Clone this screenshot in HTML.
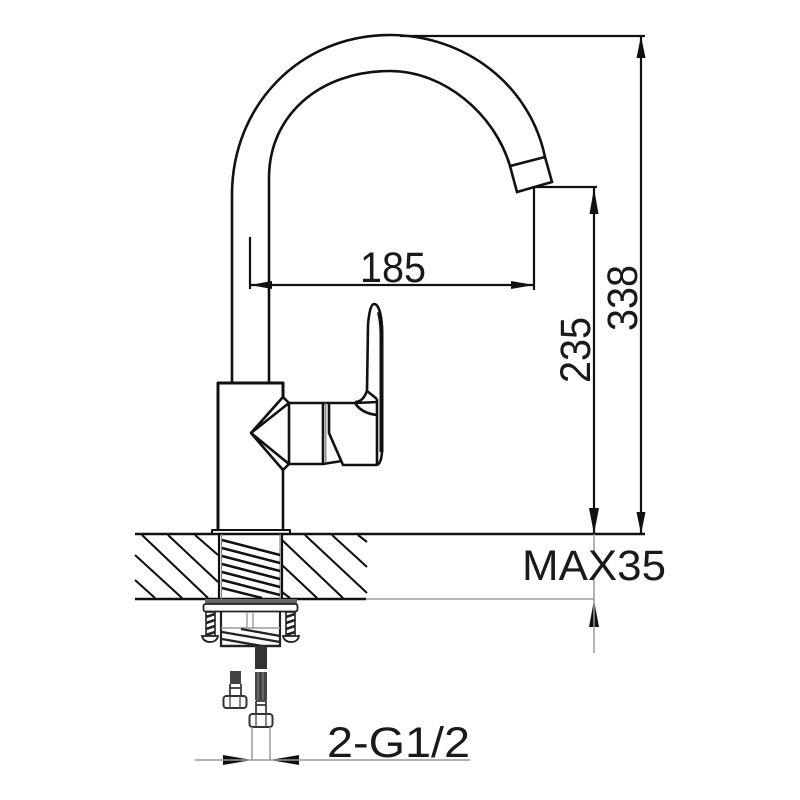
<!DOCTYPE html>
<html><head><meta charset="utf-8"><style>
html,body{margin:0;padding:0;background:#fff}
svg{display:block}
text{font-family:"Liberation Sans",sans-serif;fill:#1a1a1a;font-size:43px}
</style></head><body>
<svg width="800" height="800" viewBox="0 0 800 800" xmlns="http://www.w3.org/2000/svg">
<rect width="800" height="800" fill="#fff"/>
<!-- spout -->
<g fill="none" stroke="#111" stroke-width="2.6">
<path d="M232 383V195C232 105 300 35 390 35C465 35 530 85 545 157L552 182L517 192L510 166"/>
<path d="M269 383V178C269 115 320 71 390 71C445 71 495 115 510 166L545 157"/>
</g>
<!-- body -->
<g fill="none" stroke="#111" stroke-width="2.6" stroke-linejoin="round">
<path d="M218 530V383H283V397" stroke-width="3"/>
<path d="M283 470V530"/>
<path d="M283 397L251 433L283 470L289 464V403L283 397"/>
<path d="M251 433L289 403H323V464H289L251 433"/>
<path d="M323 403H329M323 464L329 463L342 461"/>
<path d="M325.800 403V462" stroke="#777" stroke-width="1.200"/>
<path d="M329 403H355L378 402M329 403V433L343 465H377"/>
<path d="M355 402C362 402 365 396 367 391L377 399M355 403C360 411 368 414 377 415"/>
<path d="M367 391L368 325C369 312 371 304 374 304C379 304 382 316 382 332V450C382 458 380 464 377 465"/>
<path d="M379 312C381.500 322 381.500 330 381.500 340V452" stroke-width="4"/>
<path d="M377 399V465"/>
<rect x="212" y="530" width="78" height="4" fill="#fff" stroke-width="2"/>
</g>
<!-- countertop -->
<g stroke="#111" fill="none">
<path d="M135 534H645" stroke-width="2.600"/>
<path d="M135 599H366" stroke-width="2.600"/>
<path d="M366 599H594" stroke="#aaa" stroke-width="1.800"/>
<path stroke-width="2.100" d="M142 535L208 598M168 535L218 582M195 535L218 555M135 555L182 598M135 580L155 598M282 565L317 598M282 540L343 598M305 535L367 593M332 535L367 567M358 535L367 542M282 592L290 598"/>
</g>
<!-- threaded stem -->
<g fill="none" stroke="#111">
<path d="M219 534V599M282 534V599" stroke-width="2.200"/>
<path d="M221.500 534V599" stroke="#888" stroke-width="1.200"/>
<path d="M280 534V599" stroke="#888" stroke-width="1.200"/>
<path stroke-width="2.500" d="M222 540L280 555M222 548L280 563M222 556L280 571M222 564L280 579M222 572L280 587M222 580L280 595M222 588L262 598"/>
</g>
<!-- nut assembly -->
<g fill="none" stroke="#222">
<rect x="205" y="599" width="92" height="5" fill="#666" stroke="none"/>
<rect x="203.500" y="604" width="94" height="7.500" rx="2" stroke-width="1.800"/>
<path d="M221 612V646H280V612" stroke-width="2.200"/>
<path d="M247 612V628M253 612V628M221 628H280" stroke="#999" stroke-width="1.400"/>
<path stroke-width="2.300" d="M222 632L280 642M241 629L280 636M222 639L262 646M221 646H280"/>
<rect x="206" y="612" width="9" height="24" stroke-width="1.600" fill="#fff"/>
<rect x="286" y="612" width="9" height="24" stroke-width="1.600" fill="#fff"/>
<path stroke-width="2.600" d="M206 617L215 614M206 623L215 620M206 629L215 626M206 635L215 632M286 617L295 614M286 623L295 620M286 629L295 626M286 635L295 632"/>
<path d="M202 636H218C217 641 213 642 210 642C206 642 203 640 202 636Z" stroke-width="1.800" fill="#fff"/>
<path d="M283 636H299C298 641 294 642 291 642C287 642 284 640 283 636Z" stroke-width="1.800" fill="#fff"/>
</g>
<!-- hoses -->
<rect x="255" y="646" width="12" height="23" fill="#333"/>
<rect x="255" y="672" width="12" height="28" fill="#444"/>
<path d="M258 672V700M263 672V700" stroke="#888" stroke-width="1"/>
<path d="M256 701H266V714M256 701V714M256 705H266" fill="none" stroke="#333" stroke-width="1.700"/>
<rect x="249.500" y="714" width="23" height="13" rx="3" fill="#fff" stroke="#333" stroke-width="2"/>
<path d="M256 714V727M266 714V727" stroke="#555" stroke-width="1.400"/>
<rect x="230" y="671" width="11" height="13" fill="#444"/>
<path d="M230 684V696M241 684V696M230 688H241" fill="none" stroke="#333" stroke-width="1.700"/>
<rect x="223.500" y="696" width="23" height="12" rx="3" fill="#fff" stroke="#333" stroke-width="2"/>
<path d="M230 696V708M240 696V708" stroke="#555" stroke-width="1.400"/>
<!-- dimensions -->
<g fill="none" stroke="#111" stroke-width="2.200">
<path d="M400 36H645"/>
<path d="M641 36V534"/>
<path d="M534 187H597"/>
<path d="M534 187V290"/>
<path d="M594 187V534"/>
<path d="M250 237V289"/>
<path d="M250 285H534"/>
</g>
<g fill="#111" stroke="none">
<path d="M641 36L645.500 58H636.500Z"/>
<path d="M641 534L645.500 512H636.500Z"/>
<path d="M594 188L598.500 214H589.500Z"/>
<path d="M594 534L599 508H589Z"/>
<path d="M250 285L272 281V289Z"/>
<path d="M534 285L511 281V289Z"/>
<path d="M594 600L599 627H589Z"/>
<path d="M252 760L223 755V765Z"/>
<path d="M270 760L299 755V765Z"/>
</g>
<g fill="none" stroke="#999" stroke-width="1.500">
<path d="M594 534V551M594 579V653"/>
<path d="M252 727V760M270 727V760"/>
<path d="M195 760H470"/>
</g>
<!-- labels -->
<text x="360" y="282" textLength="66" lengthAdjust="spacingAndGlyphs">185</text>
<text transform="translate(590 383) rotate(-90)" textLength="66" lengthAdjust="spacingAndGlyphs">235</text>
<text transform="translate(637 331) rotate(-90)" textLength="66" lengthAdjust="spacingAndGlyphs">338</text>
<text x="522" y="580" textLength="144" lengthAdjust="spacingAndGlyphs" font-size="42">MAX35</text>
<text x="327" y="757" textLength="143" lengthAdjust="spacingAndGlyphs">2-G1/2</text>
</svg>
</body></html>
